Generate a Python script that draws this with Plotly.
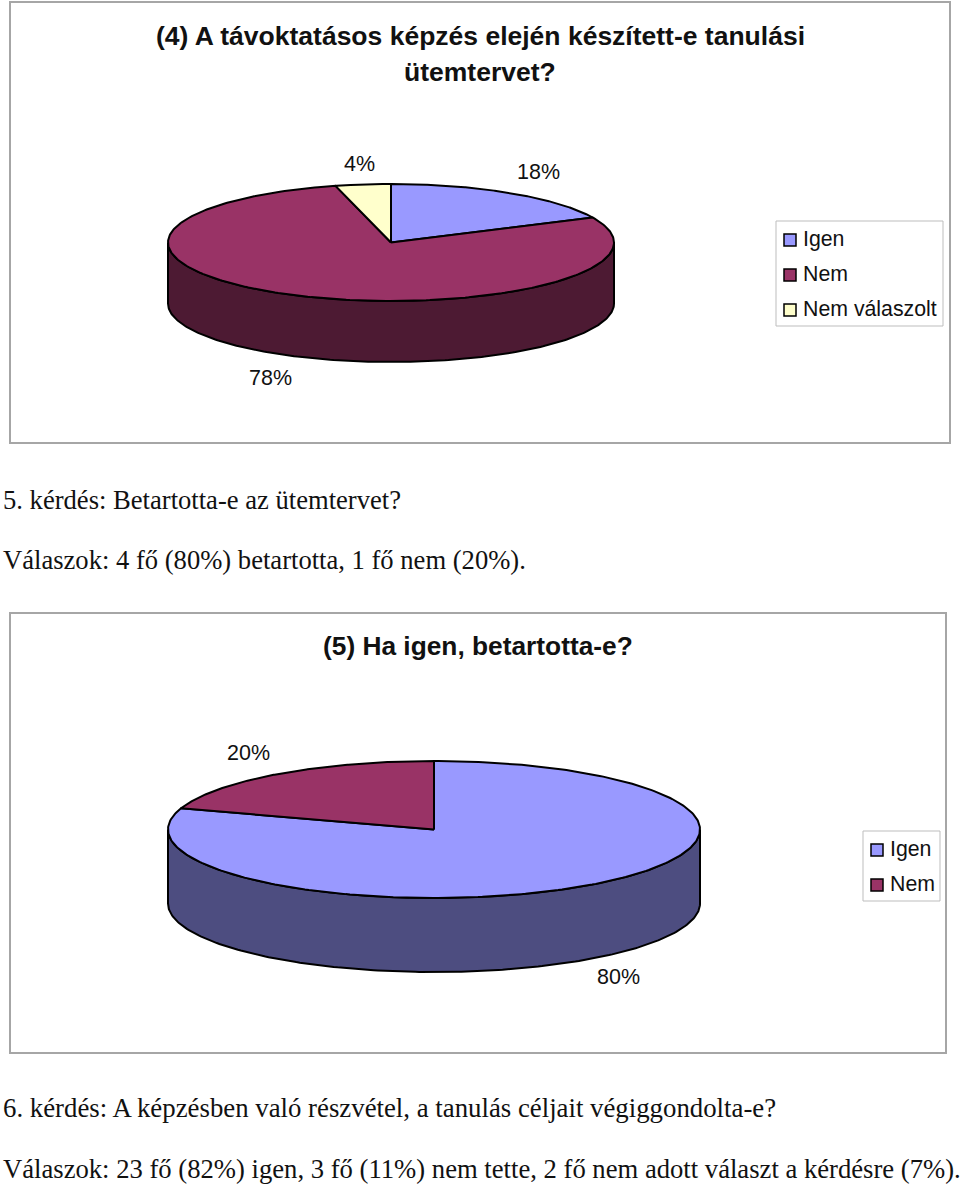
import numpy as np
import plotly.graph_objects as go

categories_a = ["Igen", "Nem", "Nem válaszolt"]
values_a = [18, 78, 4]
categories_b = ["Igen", "Nem"]
values_b = [80, 20]

title_a = ["(4) A távoktatásos képzés elején készített-e tanulási", "ütemtervet?"]
title_b = "(5) Ha igen, betartotta-e?"
para_lines = [
    "5. kérdés: Betartotta-e az ütemtervet?",
    "Válaszok: 4 fő (80%) betartotta, 1 fő nem (20%).",
    "6. kérdés: A képzésben való részvétel, a tanulás céljait végiggondolta-e?",
    "Válaszok: 23 fő (82%) igen, 3 fő (11%) nem tette, 2 fő nem adott választ a kérdésre (7%).",
]

para_y = [500, 560, 1108, 1169]
para_size = [26.6, 26.6, 26.8, 26.65]

TOP = {"Igen": "#9999FF", "Nem": "#993366", "Nem válaszolt": "#FFFFCC"}
SIDE = {"Igen": "#4D4D80", "Nem": "#4D1A33", "Nem válaszolt": "#80801A"}

fig = go.Figure()


def ell(cx, cy, rx, ry, deg):
    a = np.radians(deg)
    return cx + rx * np.sin(a), cy - ry * np.cos(a)


def pie3d(cats, vals, cx, cy, rx, ry, depth):
    total = sum(vals)
    start = 0.0
    spans = []
    for c, v in zip(cats, vals):
        end = start + 360.0 * v / total
        spans.append((c, start, end))
        start = end
    for c, s, e in spans:
        lo, hi = max(s, 90), min(e, 270)
        if hi > lo:
            t = np.linspace(lo, hi, 200)
            x, y = ell(cx, cy, rx, ry, t)
            fig.add_trace(go.Scatter(
                x=np.r_[x, x[::-1], x[0]], y=np.r_[y, y[::-1] + depth, y[0]],
                mode="lines", fill="toself", fillcolor=SIDE[c],
                line=dict(color="black", width=2), hoverinfo="skip"))
    for c, s, e in spans:
        t = np.linspace(s, e, 300)
        x, y = ell(cx, cy, rx, ry, t)
        fig.add_trace(go.Scatter(
            x=np.r_[cx, x, cx], y=np.r_[cy, y, cy],
            mode="lines", fill="toself", fillcolor=TOP[c], name=c,
            line=dict(color="black", width=2), hoverinfo="skip"))


def text(s, x, y, fam, size, anchor="center", bold=False):
    fig.add_annotation(x=x, y=y, text=f"<b>{s}</b>" if bold else s, showarrow=False,
                       xref="x", yref="y", xanchor=anchor, yanchor="middle",
                       font=dict(family=fam, size=size, color="#111111"))


def legend(cats, x_sw, ys, size):
    for c, y in zip(cats, ys):
        fig.add_trace(go.Scatter(
            x=[x_sw], y=[y], mode="markers",
            marker=dict(symbol="square", size=12, color=TOP[c], line=dict(color="black", width=1.5)),
            hoverinfo="skip"))
        text(c, x_sw + 11, y - 1.5, "Liberation Sans", size, anchor="left")


pie3d(categories_a, values_a, 391, 242.5, 223, 58.5, 61)
pie3d(categories_b, values_b, 434, 829.5, 266, 68.5, 74)
legend(categories_a, 790, [240, 275, 310], 21.3)
legend(categories_b, 877, [850, 885], 21.3)


def frame(x0, y0, x1, y1, color, width):
    fig.add_shape(type="rect", x0=x0, y0=y0, x1=x1, y1=y1, layer="below",
                  line=dict(color=color, width=width), fillcolor="white")


frame(10, 2, 950, 443, "#A6A6A6", 2)
frame(10, 613, 946, 1053, "#A6A6A6", 2)
frame(776, 221, 943, 326, "#BDBDBD", 1)
frame(863, 831, 940, 901, "#BDBDBD", 1)

text(title_a[0], 480, 36, "Liberation Sans", 26.5, bold=True)
text(title_a[1], 480, 72, "Liberation Sans", 26.5, bold=True)
text(title_b, 477.5, 646, "Liberation Sans", 26.3, bold=True)
for v, (x, y) in zip(values_a, [(538, 172), (270, 378), (359, 164)]):
    text(f"{v}%", x, y, "Liberation Sans", 21.5)
for v, (x, y) in zip(values_b, [(618, 977), (248, 753)]):
    text(f"{v}%", x, y, "Liberation Sans", 21.5)
for s, y, size in zip(para_lines, para_y, para_size):
    text(s, 1, y, "Liberation Serif", size, anchor="left")

fig.update_layout(
    width=960, height=1186, margin=dict(l=0, r=0, t=0, b=0),
    paper_bgcolor="white", plot_bgcolor="white", showlegend=False,
    xaxis=dict(range=[0, 960], visible=False, fixedrange=True),
    yaxis=dict(range=[1186, 0], visible=False, fixedrange=True),
)
fig.write_html("out.html", config={"displayModeBar": False},
               post_script="document.body.style.margin='0';document.documentElement.style.overflow='hidden';")
